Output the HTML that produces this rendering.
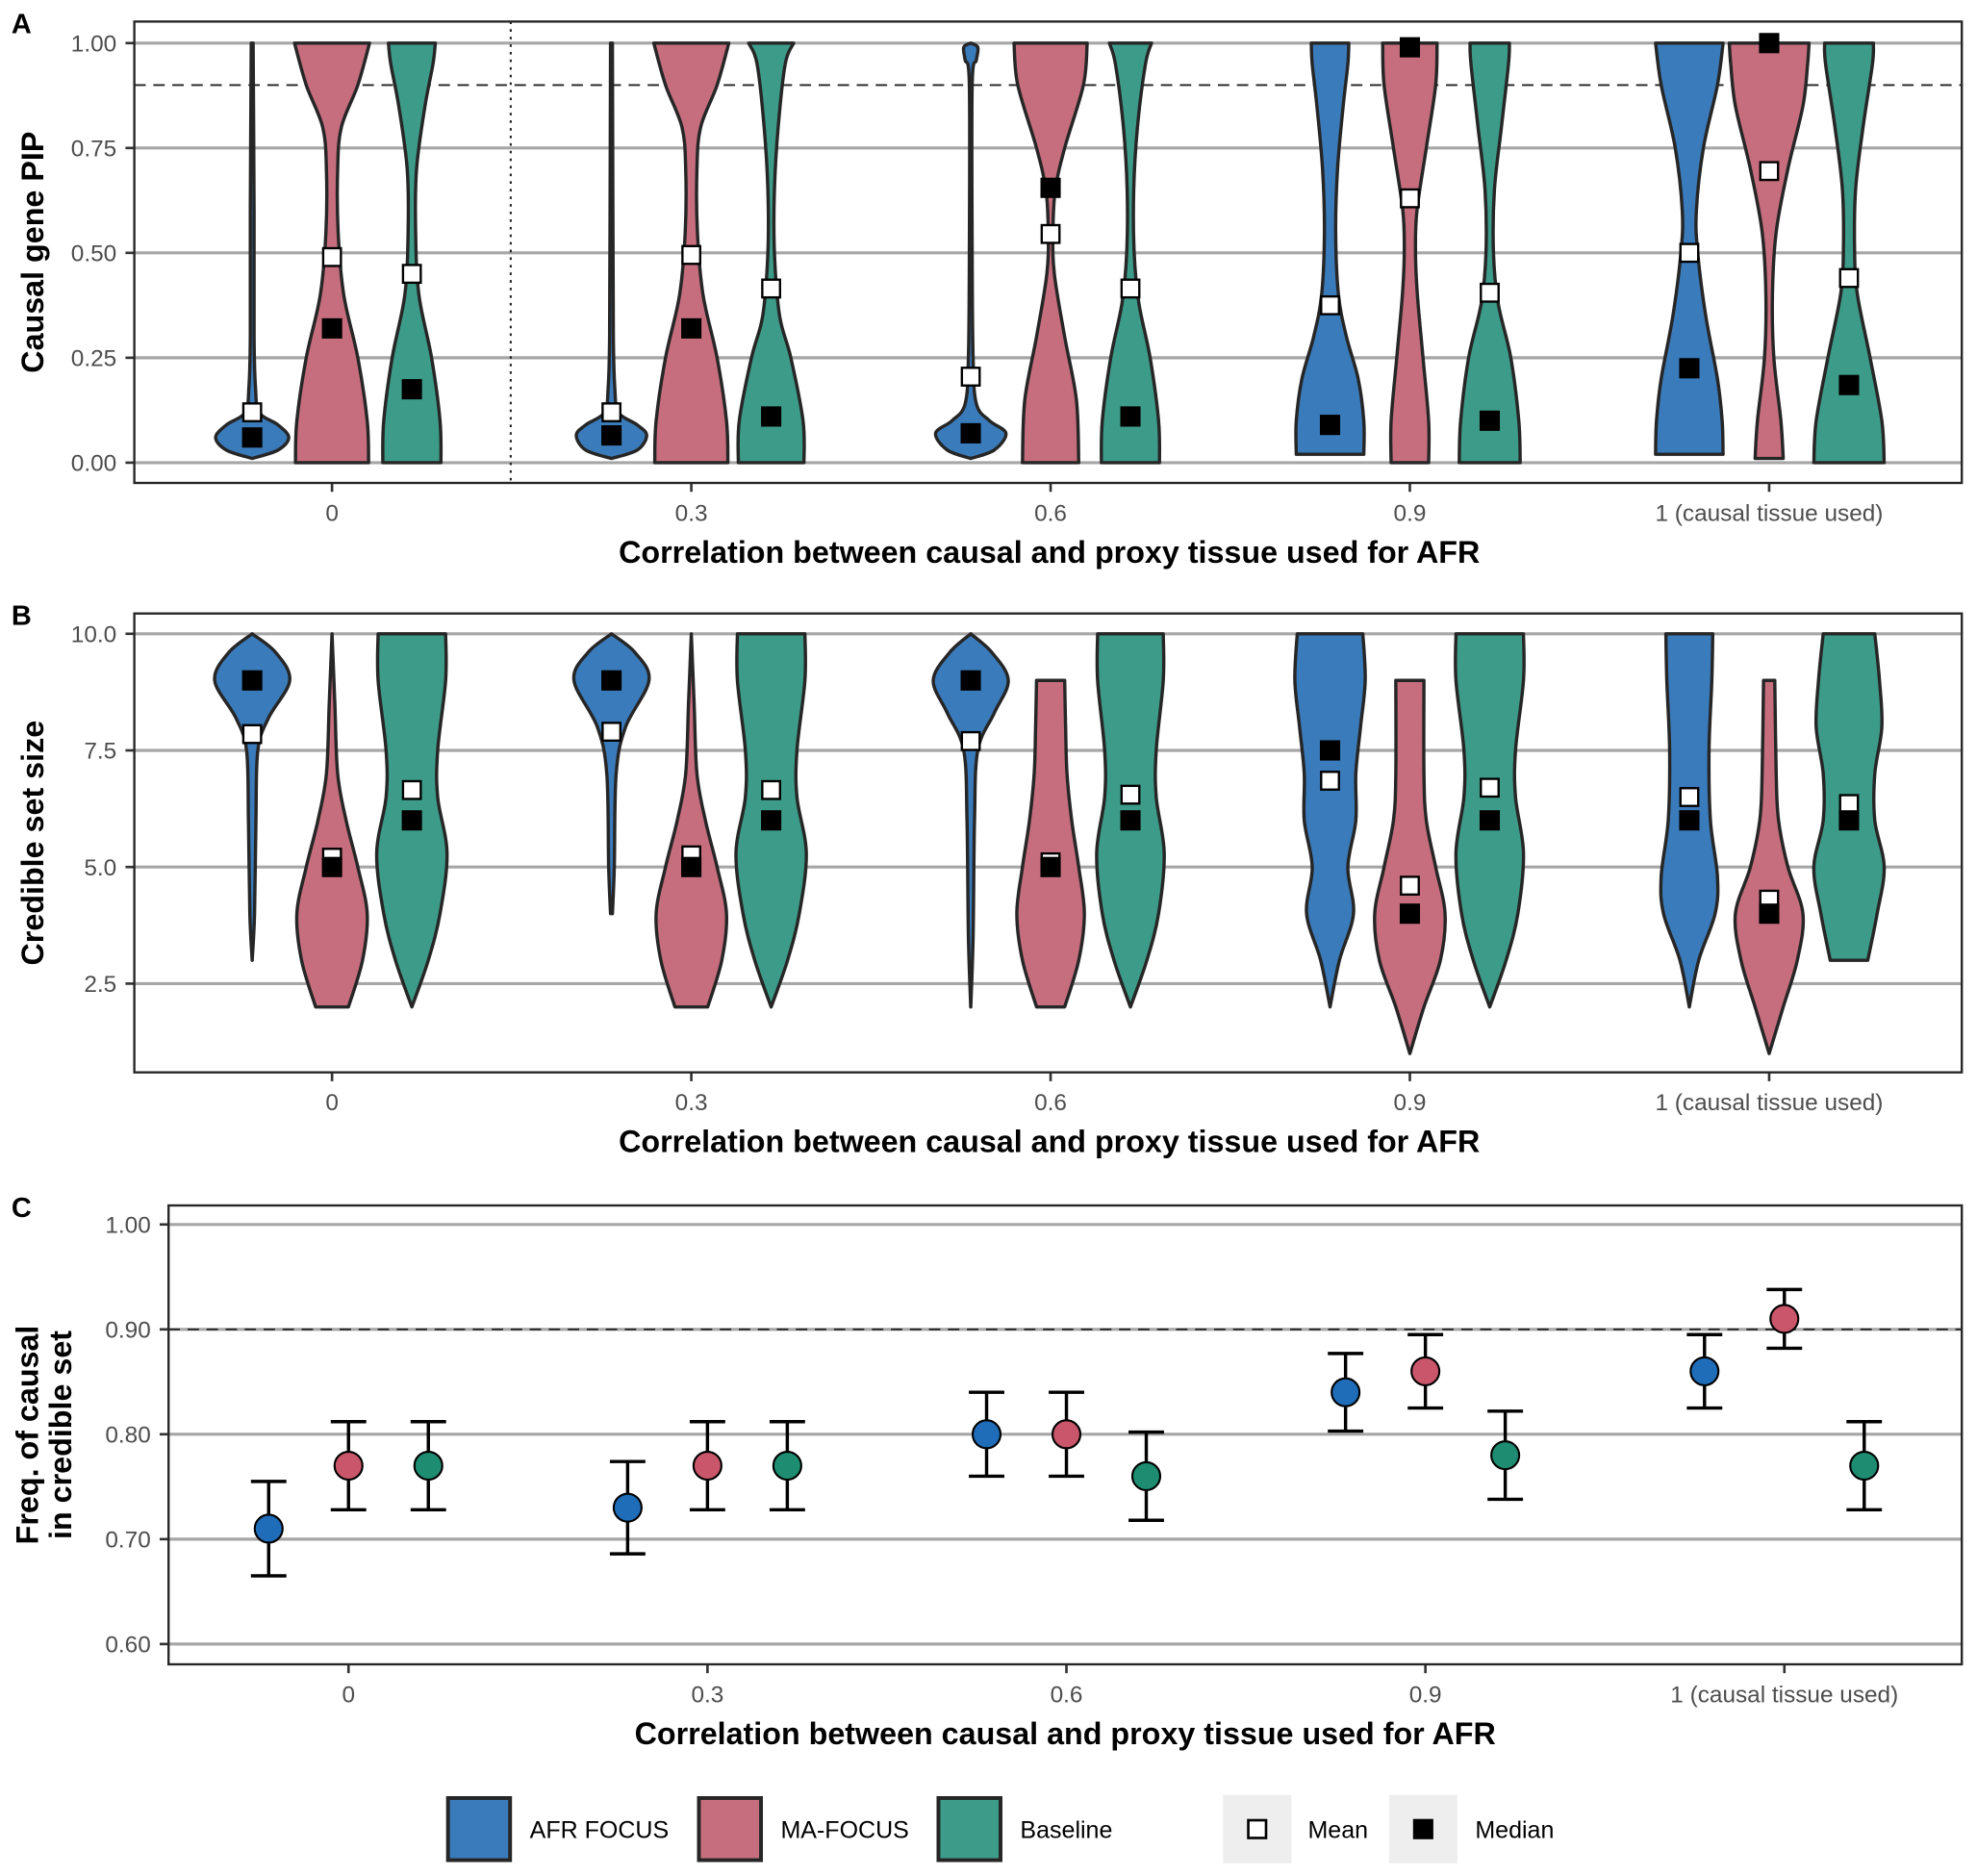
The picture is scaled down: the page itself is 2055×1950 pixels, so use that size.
<!DOCTYPE html>
<html><head><meta charset="utf-8"><style>
html,body{margin:0;padding:0;background:#fff;}
svg{display:block;font-family:"Liberation Sans",sans-serif;}
</style></head><body>
<svg id="fig" width="2055" height="1950" viewBox="0 0 1560 1480" preserveAspectRatio="none"></svg>
<script>
const categories=["0","0.3","0.6","0.9","1 (causal tissue used)"];
const groups=["AFR FOCUS","MA-FOCUS","Baseline"];
const colors=["#3a7bbb","#c76e7e","#3d9c89"];
const pointColors=["#1f6cb8","#c9566a","#1e8c70"];
// Panel A: PIP
const pipMean=[[0.12,0.12,0.205,0.375,0.5],[0.49,0.495,0.545,0.63,0.695],[0.45,0.415,0.415,0.405,0.44]];
const pipMedian=[[0.06,0.065,0.07,0.09,0.225],[0.32,0.32,0.655,0.99,1.0],[0.175,0.11,0.11,0.10,0.185]];
const pipViolins=[
[[[.01,0],[.03,.55],[.06,.78],[.09,.55],[.12,.15],[.18,.07],[.3,.04],[.6,.04],[1,.02]],
 [[.01,0],[.03,.55],[.065,.75],[.09,.55],[.12,.15],[.18,.07],[.3,.04],[.6,.03],[1,.02]],
 [[.01,0],[.03,.5],[.07,.75],[.1,.4],[.14,.12],[.25,.05],[.5,.03],[.9,.03],[.96,.12],[.99,.15],[1,0]],
 [[.02,.72],[.1,.72],[.2,.6],[.3,.35],[.4,.18],[.55,.12],[.7,.16],[.85,.28],[.95,.38],[1,.4]],
 [[.02,.72],[.1,.7],[.2,.6],[.35,.35],[.5,.18],[.6,.15],[.75,.3],[.9,.6],[1,.72]]],
[[[0,.78],[.1,.75],[.25,.55],[.4,.25],[.55,.13],[.7,.12],[.8,.2],[.9,.55],[1,.8]],
 [[0,.78],[.1,.75],[.25,.55],[.4,.25],[.55,.13],[.7,.12],[.8,.2],[.9,.55],[1,.8]],
 [[0,.6],[.15,.55],[.3,.3],[.45,.08],[.55,.05],[.65,.1],[.75,.3],[.9,.7],[1,.78]],
 [[0,.4],[.1,.4],[.25,.28],[.4,.16],[.5,.12],[.6,.15],[.75,.35],[.9,.55],[1,.58]],
 [[.01,.3],[.1,.25],[.25,.1],[.4,.07],[.55,.15],[.7,.4],[.85,.72],[.95,.82],[1,.85]]],
[[[0,.62],[.1,.6],[.25,.42],[.4,.15],[.55,.08],[.7,.1],[.85,.28],[.95,.45],[1,.5]],
 [[0,.7],[.1,.68],[.25,.42],[.35,.18],[.5,.07],[.65,.07],[.8,.15],[.95,.3],[1,.48]],
 [[0,.62],[.1,.6],[.25,.42],[.38,.18],[.5,.08],[.65,.07],[.8,.15],[.95,.32],[1,.45]],
 [[0,.65],[.1,.62],[.25,.45],[.38,.18],[.5,.08],[.65,.1],[.8,.25],[.95,.4],[1,.42]],
 [[0,.75],[.1,.7],[.25,.45],[.4,.18],[.5,.12],[.65,.14],[.8,.3],[.95,.5],[1,.52]]]];
// Panel B: credible set size
const csMean=[[7.85,7.9,7.7,6.85,6.5],[5.2,5.25,5.1,4.6,4.3],[6.65,6.65,6.55,6.7,6.35]];
const csMedian=[[9,9,9,7.5,6],[5,5,5,4,4],[6,6,6,6,6]];
const csViolins=[
[[[3,0],[4,.05],[6,.08],[7.5,.12],[8.2,.35],[9,.8],[9.6,.5],[10,0]],
 [[4,.02],[5,.06],[7,.1],[8,.3],[9,.8],[9.6,.5],[10,0]],
 [[2,0],[3.5,.05],[6,.08],[7.5,.15],[8.3,.5],[9,.8],[9.6,.45],[10,0]],
 [[2,0],[3,.2],[4,.5],[5,.38],[6,.55],[7,.55],[8,.65],[9,.75],[10,.7]],
 [[2,0],[3,.2],[4,.55],[4.8,.6],[6,.45],[7.5,.42],[9,.48],[10,.5]]],
[[[2,.35],[3,.65],[4,.75],[5,.55],[6,.3],[7,.12],[8.5,.06],[10,0]],
 [[2,.35],[3,.65],[4,.75],[5,.55],[6,.3],[7,.12],[8.5,.06],[10,0]],
 [[2,.3],[3,.6],[4,.72],[5,.6],[6,.45],[7,.35],[8,.32],[9,.3]],
 [[1,0],[2,.3],[3,.65],[4,.75],[5,.55],[6,.35],[7,.3],[9,.3]],
 [[1,0],[2,.3],[3,.6],[4,.72],[5,.4],[6,.2],[7,.15],[9,.12]]],
[[[2,0],[3,.35],[4,.6],[5.3,.75],[6.5,.55],[7.5,.55],[9,.72],[10,.72]],
 [[2,0],[3,.35],[4,.6],[5.3,.75],[6.5,.55],[7.5,.55],[9,.72],[10,.72]],
 [[2,0],[3,.35],[4,.6],[5.3,.72],[6.5,.55],[7.5,.55],[9,.7],[10,.7]],
 [[2,0],[3,.35],[4,.6],[5.3,.72],[6.5,.55],[7.5,.55],[9,.72],[10,.72]],
 [[3,.4],[4,.6],[5,.75],[6,.55],[7,.55],[8,.7],[9,.65],[10,.55]]]];
// Panel C: frequency in credible set
const freqVal=[[0.71,0.73,0.80,0.84,0.86],[0.77,0.77,0.80,0.86,0.91],[0.77,0.77,0.76,0.78,0.77]];
const freqLo=[[0.665,0.686,0.76,0.803,0.825],[0.728,0.728,0.76,0.825,0.882],[0.728,0.728,0.718,0.738,0.728]];
const freqHi=[[0.755,0.774,0.84,0.877,0.895],[0.812,0.812,0.84,0.895,0.938],[0.812,0.812,0.802,0.822,0.812]];
const pipTicks=[0,0.25,0.5,0.75,1];
const csTicks=[2.5,5,7.5,10];
const freqTicks=[0.6,0.7,0.8,0.9,1.0];

const NS="http://www.w3.org/2000/svg";
const svg=document.getElementById('fig');
function mk(tag,attrs,parent,text){const e=document.createElementNS(NS,tag);for(const k in attrs)e.setAttribute(k,attrs[k]);if(text!==undefined)e.textContent=text;(parent||svg).appendChild(e);return e;}
function smooth(pts){let d="M"+pts[0][0]+","+pts[0][1];for(let i=0;i<pts.length-1;i++){const p0=pts[Math.max(i-1,0)],p1=pts[i],p2=pts[i+1],p3=pts[Math.min(i+2,pts.length-1)];const c1=[p1[0]+(p2[0]-p0[0])/6,p1[1]+(p2[1]-p0[1])/6],c2=[p2[0]-(p3[0]-p1[0])/6,p2[1]-(p3[1]-p1[1])/6];d+=`C${c1[0]},${c1[1]} ${c2[0]},${c2[1]} ${p2[0]},${p2[1]}`;}return d;}

function panel(o){
  const g=mk('g',{},svg);
  const yS=v=>o.y0+(v-o.v0)/(o.v1-o.v0)*(o.y1-o.y0);
  const xS=i=>o.x0+i*(o.x4-o.x0)/4;
  o.ticks.forEach(t=>{
    const l=mk('line',{x1:o.left,x2:1548,y1:yS(t),y2:yS(t),stroke:'#a6a6a6','stroke-width':2.4},g);
    
    const tx=mk('text',{x:o.left-14,y:yS(t)+6.5,'text-anchor':'end','font-size':18.5,fill:'#4d4d4d'},g,t.toFixed(2).replace(/^(\d+\.\d)0$/,o.fmt1?"$1":"$&"));
    
    mk('line',{x1:o.left-7,x2:o.left,y1:yS(t),y2:yS(t),stroke:'#333','stroke-width':2},g);
  });
  categories.forEach((c,i)=>{
    const t=mk('text',{x:xS(i),y:o.bottom+30,'text-anchor':'middle','font-size':18.5,fill:'#4d4d4d'},g,c);
    
    mk('line',{x1:xS(i),x2:xS(i),y1:o.bottom,y2:o.bottom+7,stroke:'#333','stroke-width':2},g);
  });
  const xt=mk('text',{x:(o.x0+o.x4)/2-1,y:o.bottom+63,'text-anchor':'middle','font-size':24.5,'font-weight':'bold'},g,'Correlation between causal and proxy tissue used for AFR');
  
  const yc=(o.top+o.bottom)/2;
  o.ytitle.forEach((s,k)=>{const x=o.ytitle.length>1?(30+k*26):34;const yt=mk('text',{x:0,y:0,'text-anchor':'middle','font-size':24.5,'font-weight':'bold',transform:`translate(${x},${yc}) rotate(-90)`},g,s);
    });
  const pl=mk('text',{x:9,y:o.top+9,'font-size':22,'font-weight':'bold'},g,o.letter);
  
  return {g,yS,xS};
}
function violins(P,V,means,meds){
  for(let s=0;s<3;s++)for(let i=0;i<5;i++){
    const cx=P.xS(i)+(s-1)*63;const prof=V[s][i];
    const right=prof.map(p=>[cx+p[1]*37,P.yS(p[0])]);
    const left=prof.map(p=>[cx-p[1]*37,P.yS(p[0])]).reverse();
    let d=smooth(right)+"L"+left[0][0]+","+left[0][1]+smooth(left).replace(/^M[^C]*/,'')+"Z";
    const v=mk('path',{d,fill:colors[s],stroke:'#262626','stroke-width':2.6,'stroke-linejoin':'round'},P.g);
    
  }
  for(let s=0;s<3;s++)for(let i=0;i<5;i++){
    const cx=P.xS(i)+(s-1)*63;
    const m=mk('rect',{x:cx-7,y:P.yS(means[s][i])-7,width:14,height:14,fill:'#fff',stroke:'#000','stroke-width':1.8},P.g);
    
    const md=mk('rect',{x:cx-8,y:P.yS(meds[s][i])-8,width:16,height:16,fill:'#000'},P.g);
    
  }
}
function frame(o,g){const r=mk('rect',{x:o.left,y:o.top,width:1548-o.left,height:o.bottom-o.top,fill:'none',stroke:'#262626','stroke-width':1.8},g);}

// Panel A
const oA={name:'panel-a-pip',letter:'A',left:106,top:17,bottom:381,y0:365,y1:34,v0:0,v1:1,x0:262,x4:1396,ticks:pipTicks,ytitle:['Causal gene PIP']};
const PA=panel(oA);
mk('line',{x1:106,x2:1548,y1:PA.yS(0.9),y2:PA.yS(0.9),stroke:'#222','stroke-width':1.4,'stroke-dasharray':'9,6'},PA.g);
mk('line',{x1:403,x2:403,y1:17,y2:381,stroke:'#222','stroke-width':1.6,'stroke-dasharray':'2,4'},PA.g);
violins(PA,pipViolins,pipMean,pipMedian);
frame(oA,PA.g);
// Panel B
const oB={name:'panel-b-credible-set',letter:'B',left:106,top:484,bottom:846,y0:776,y1:500,v0:2.5,v1:10,x0:262,x4:1396,ticks:csTicks,fmt1:true,ytitle:['Credible set size']};
const PB=panel(oB);
violins(PB,csViolins,csMean,csMedian);
frame(oB,PB.g);
// Panel C
const oC={name:'panel-c-frequency',letter:'C',left:133,top:951,bottom:1313,y0:1297,y1:966,v0:0.6,v1:1.0,x0:275,x4:1408,ticks:freqTicks,ytitle:['Freq. of causal','in credible set']};
const PC=panel(oC);
mk('line',{x1:133,x2:1548,y1:PC.yS(0.9),y2:PC.yS(0.9),stroke:'#222','stroke-width':1.4,'stroke-dasharray':'9,6'},PC.g);
for(let s=0;s<3;s++)for(let i=0;i<5;i++){
  const cx=PC.xS(i)+(s-1)*63;
  const e=mk('path',{d:`M${cx-14},${PC.yS(freqHi[s][i])}H${cx+14}M${cx},${PC.yS(freqHi[s][i])}V${PC.yS(freqLo[s][i])}M${cx-14},${PC.yS(freqLo[s][i])}H${cx+14}`,stroke:'#000','stroke-width':2.6,fill:'none'},PC.g);
  
  const c=mk('circle',{cx,cy:PC.yS(freqVal[s][i]),r:11,fill:pointColors[s],stroke:'#000','stroke-width':1.6},PC.g);
  
}
frame(oC,PC.g);

// Legend
const lg=mk('g',{},svg);
[[352,418],[550,616],[739,805]].forEach((p,s)=>{
  const r=mk('rect',{x:p[0]+1.5,y:1418.5,width:49,height:49,fill:colors[s],stroke:'#262626','stroke-width':3},lg);
  
  const t=mk('text',{x:p[1],y:1450,'font-size':19},lg,groups[s]);
});
[[965,1032,'Mean',false],[1096,1164,'Median',true]].forEach(p=>{
  mk('rect',{x:p[0],y:1416,width:54,height:54,fill:'#eeeeee'},lg);
  mk('rect',{x:p[0]+20,y:1436,width:14,height:14,fill:p[3]?'#000':'#fff',stroke:'#000','stroke-width':2},lg);
  const t=mk('text',{x:p[1],y:1450,'font-size':19},lg,p[2]);
});
</script>
</body></html>
